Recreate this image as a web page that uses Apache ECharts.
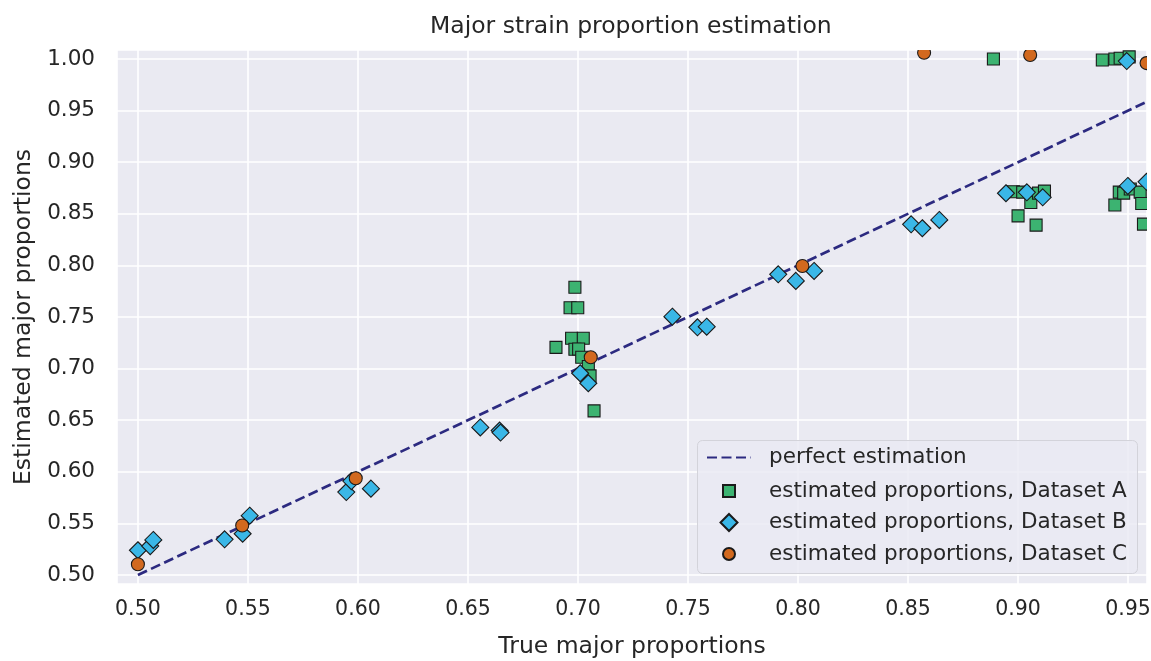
<!DOCTYPE html>
<html>
<head>
<meta charset="utf-8">
<script src="https://cdn.jsdelivr.net/npm/echarts@6/dist/echarts.min.js"></script>
<style>
html,body{margin:0;padding:0;background:#fff;}
#chart{width:1151px;height:661px;}
</style>
</head>
<body>
<div id="chart"></div>
<script>
// ---- data ----
const titleText = 'Major strain proportion estimation';
const xName = 'True major proportions';
const yName = 'Estimated major proportions';
const legendNames = ['perfect estimation', 'estimated proportions, Dataset A', 'estimated proportions, Dataset B', 'estimated proportions, Dataset C'];

const perfectLine = [[0.50, 0.50], [0.96, 0.96]];

const datasetA = [
  [0.6986, 0.7788], [0.6964, 0.759], [0.6999, 0.759], [0.6971, 0.7294], [0.7024, 0.7294],
  [0.6900, 0.7206], [0.6986, 0.7187], [0.7003, 0.719], [0.7017, 0.711], [0.7047, 0.702],
  [0.7055, 0.693], [0.7073, 0.659],
  [0.8979, 0.8714], [0.9021, 0.871], [0.9058, 0.861], [0.9093, 0.870], [0.9120, 0.872],
  [0.9000, 0.848], [0.9082, 0.839],
  [0.9440, 0.8585], [0.9460, 0.871], [0.9480, 0.870], [0.9510, 0.874], [0.9555, 0.871],
  [0.9562, 0.860], [0.9570, 0.840],
  [0.8888, 1.000], [0.9383, 0.999], [0.9440, 1.000], [0.9464, 1.0007], [0.9505, 1.002]
];

const datasetB = [
  [0.5000, 0.524], [0.5056, 0.528], [0.5070, 0.534], [0.5394, 0.5346], [0.5476, 0.540],
  [0.5508, 0.5575], [0.5947, 0.5804], [0.5970, 0.591], [0.6059, 0.5837], [0.6556, 0.643],
  [0.6644, 0.640], [0.6648, 0.638], [0.7010, 0.6955], [0.7047, 0.6858], [0.7429, 0.7503],
  [0.7543, 0.740], [0.7585, 0.7406], [0.7910, 0.7914], [0.7990, 0.785], [0.8073, 0.7946],
  [0.8514, 0.8398], [0.8565, 0.836], [0.8642, 0.844], [0.8945, 0.8699], [0.9040, 0.8708],
  [0.9112, 0.866], [0.9499, 0.877], [0.9584, 0.881], [0.9494, 0.998]
];

const datasetC = [
  [0.5000, 0.5104], [0.5474, 0.548], [0.5990, 0.5937], [0.7058, 0.711], [0.8020, 0.7994],
  [0.8573, 1.0061], [0.9055, 1.0039], [0.9584, 0.996]
];

const xMin = 0.4905, xMax = 0.9586, yMin = 0.4913, yMax = 1.0087, tickStep = 0.05;

// ---- chart ----
const FONT = 'DejaVu Sans';
const TXT = '#262626';
const chart = echarts.init(document.getElementById('chart'), null, {renderer: 'canvas'});

const axisCommon = {
  type: 'value',
  minInterval: tickStep,
  maxInterval: tickStep,
  axisLine: {show: false},
  axisTick: {show: false},
  splitLine: {show: true, lineStyle: {color: '#ffffff', width: 1.6}},
  nameLocation: 'middle',
  nameTextStyle: {fontFamily: FONT, fontSize: 23.5, color: TXT},
};

const legendText = {fontFamily: FONT, fontSize: 21.5, color: TXT, lineHeight: 20};
function legendBlock(name, top, left, size, pad) {
  return {
    orient: 'vertical', left: left, top: top, padding: 0,
    itemWidth: size, itemHeight: size, z: 30,
    textStyle: Object.assign({}, legendText, {padding: [0, 0, 0, pad]}),
    data: [name], selectedMode: false
  };
}

chart.setOption({
  animation: false,
  backgroundColor: '#ffffff',
  title: {
    text: titleText, left: 430, top: 15, padding: 0, z: 100,
    textStyle: {fontFamily: FONT, fontSize: 23.5, fontWeight: 'normal', color: TXT}
  },
  grid: {
    left: 117, right: 4, top: 50, bottom: 77,
    show: true, backgroundColor: '#eaeaf2', borderWidth: 0,
    containLabel: false, outerBoundsMode: 'none'
  },
  xAxis: Object.assign({}, axisCommon, {
    min: xMin, max: xMax, name: xName, nameGap: 51,
    axisLabel: {
      fontFamily: FONT, fontSize: 20.5, color: TXT, margin: 15.5,
      showMinLabel: false, showMaxLabel: false,
      formatter: v => v.toFixed(2)
    }
  }),
  yAxis: Object.assign({}, axisCommon, {
    min: yMin, max: yMax, name: yName, nameGap: 78,
    axisLabel: {
      fontFamily: FONT, fontSize: 21.5, color: TXT, margin: 22,
      showMinLabel: false, showMaxLabel: false,
      formatter: v => v.toFixed(2)
    }
  }),
  legend: [
    Object.assign(legendBlock(legendNames[0], 446.5, 706, 44, 13), {itemHeight: 14, data: [{name: legendNames[0], itemStyle: {opacity: 0}}]}),
    legendBlock(legendNames[1], 480, 722, 12, 29),
    legendBlock(legendNames[2], 511.5, 719.5, 17, 26.5),
    legendBlock(legendNames[3], 543, 722, 12, 29)
  ],
  graphic: [
    {type: 'rect', shape: {x: 117, y: 0, width: 1034, height: 50}, style: {fill: '#ffffff'}, z: 50, silent: true},
    {type: 'rect', shape: {x: 1147, y: 0, width: 10, height: 584}, style: {fill: '#ffffff'}, z: 50, silent: true},
    {type: 'rect', shape: {x: 697.5, y: 440.5, width: 440, height: 133, r: 5},
      style: {fill: 'rgba(234,234,242,0.8)', stroke: '#d3d3da', lineWidth: 1}, z: 20, silent: true}
  ],
  series: [
    {
      name: legendNames[0], type: 'line', data: perfectLine, symbol: 'none', z: 2,
      lineStyle: {color: '#2c2a80', width: 2.7, type: [10, 4.5]}, clip: true
    },
    {
      name: legendNames[1], type: 'scatter', data: datasetA, symbol: 'rect', symbolSize: 12, z: 3,
      itemStyle: {color: '#3cb371', borderColor: '#1a1a1a', borderWidth: 1.1, opacity: 1}, clip: true
    },
    {
      name: legendNames[2], type: 'scatter', data: datasetB, symbol: 'diamond', symbolSize: 17, z: 4,
      itemStyle: {color: '#3ab7e7', borderColor: '#1a1a1a', borderWidth: 1.1, opacity: 1}, clip: true
    },
    {
      name: legendNames[3], type: 'scatter', data: datasetC, symbol: 'circle', symbolSize: 13, z: 5,
      itemStyle: {color: '#d2691e', borderColor: '#1a1a1a', borderWidth: 1.1, opacity: 1}, clip: true
    }
  ]
});
</script>
</body>
</html>
